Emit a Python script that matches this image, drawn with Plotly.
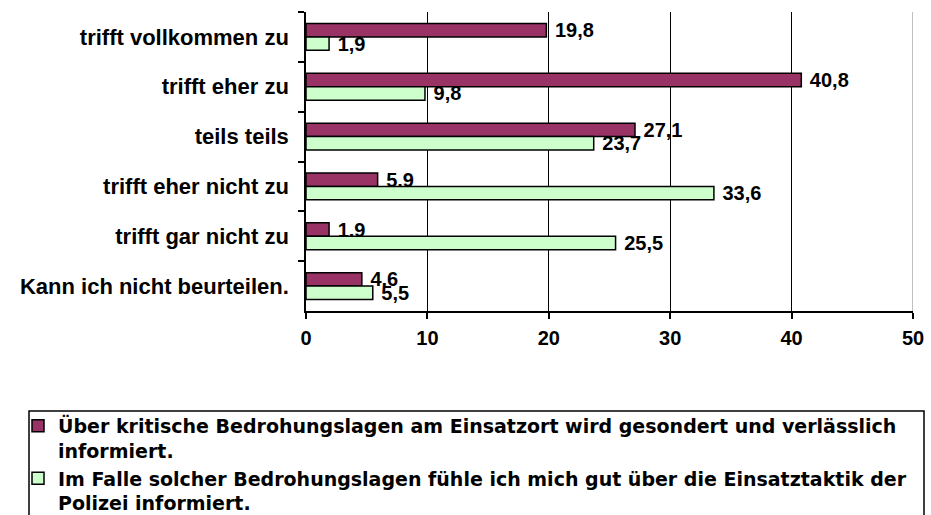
import plotly.graph_objects as go

categories = ["trifft vollkommen zu", "trifft eher zu", "teils teils",
              "trifft eher nicht zu", "trifft gar nicht zu", "Kann ich nicht beurteilen."]
series1_name = "Über kritische Bedrohungslagen am Einsatzort wird gesondert und verlässlich<br>informiert."
series2_name = "Im Falle solcher Bedrohungslagen fühle ich mich gut über die Einsatztaktik der<br>Polizei informiert."
series1_values = [19.8, 40.8, 27.1, 5.9, 1.9, 4.6]
series2_values = [1.9, 9.8, 23.7, 33.6, 25.5, 5.5]
x_ticks = [0, 10, 20, 30, 40, 50]

W, H = 931, 515
L, R, T, B = 306, 18, 12, 204
pw, ph = W - L - R, H - T - B

def px(xp):
    return (xp - L) / pw

def py(yp):
    return (H - B - yp) / ph

ARIAL = "Liberation Sans, Arial, sans-serif"
LEG = "DejaVu Sans, sans-serif"

fig = go.Figure()
fig.add_trace(go.Bar(
    y=categories, x=series1_values, orientation="h", name=series1_name,
    marker=dict(color="#993366", line=dict(color="black", width=1.5)),
    texttemplate="\u00a0%{x:.1f}", textposition="outside", constraintext="none",
    textfont=dict(family=ARIAL, size=20, color="black", weight="bold"),
    cliponaxis=False,
))
fig.add_trace(go.Bar(
    y=categories, x=series2_values, orientation="h", name=series2_name,
    marker=dict(color="#CCFFCC", line=dict(color="black", width=1.5)),
    texttemplate="\u00a0%{x:.1f}", textposition="outside", constraintext="none",
    textfont=dict(family=ARIAL, size=20, color="black", weight="bold"),
    cliponaxis=False,
))

fig.update_layout(
    width=W, height=H,
    margin=dict(l=L, r=R, t=T, b=B, pad=0, autoexpand=False),
    paper_bgcolor="white", plot_bgcolor="white",
    barmode="group", bargap=0.46, bargroupgap=0,
    separators=",.",
    showlegend=True,
    legend=dict(
        x=px(18), y=py(407), xanchor="left", yanchor="top",
        traceorder="normal", valign="top",
        font=dict(family=LEG, size=19, color="black", weight="bold"),
        bgcolor="rgba(0,0,0,0)", borderwidth=0, tracegroupgap=0,
    ),
    xaxis=dict(
        range=[0, 50], tickvals=x_ticks, ticks="outside", ticklen=6,
        tickcolor="black", tickwidth=1.5,
        showline=True, linecolor="black", linewidth=1.5,
        showgrid=True, gridcolor="black", gridwidth=1.2,
        zeroline=False,
        tickfont=dict(family=ARIAL, size=20, color="black", weight="bold"),
        ticklabelstandoff=2,
    ),
    yaxis=dict(
        autorange="reversed", type="category",
        tickson="boundaries", ticks="outside", ticklen=6,
        tickcolor="black", tickwidth=1.5,
        showline=True, linecolor="black", linewidth=1.5,
        showgrid=False, zeroline=False,
        tickfont=dict(family=ARIAL, size=22, color="black", weight="bold"),
        ticklabelstandoff=11,
    ),
    shapes=[
        dict(type="line", xref="x", yref="paper", x0=50, x1=50, y0=0, y1=1,
             line=dict(color="#c0c0c0", width=2), layer="above"),
        dict(type="rect", xref="paper", yref="paper",
             x0=px(29), x1=px(924), y0=py(411), y1=py(540),
             line=dict(color="black", width=1.5), fillcolor="rgba(0,0,0,0)"),
    ],
)

fig.write_html("out.html", config={"displayModeBar": False},
               post_script="document.body.style.margin='0';document.body.style.overflow='hidden';")
